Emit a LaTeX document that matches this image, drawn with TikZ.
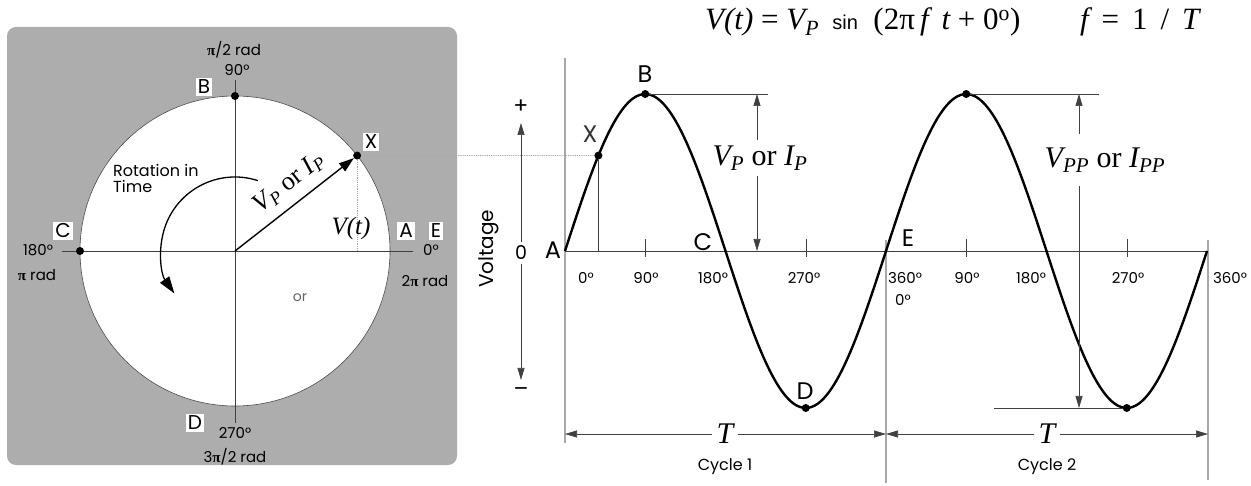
\documentclass[tikz,border=0pt]{standalone}
\usepackage{fontspec}
\setmainfont{Liberation Serif}
\newfontfamily\geofont{Poppins}
\newfontfamily\arialfont{Liberation Sans}
\usetikzlibrary{arrows.meta}
\definecolor{panel}{HTML}{ADADAD}
\definecolor{guidegray}{HTML}{A8A8A8}
\newcommand{\fs}[1]{\fontsize{#1}{#1}\selectfont}
\newcommand{\piglyph}{{\rmfamily\bfseries π}}

\begin{document}
\begin{tikzpicture}[x=1pt,y=1pt,>={Triangle[length=12pt,width=7pt]},
    lbl/.style={font=\geofont\fs{15}, inner sep=1pt},
    boxlbl/.style={fill=white, inner sep=2pt, font=\geofont\fs{20}},
    ptlbl/.style={font=\geofont\fs{24}, inner sep=1pt},
    tms/.style={font=\itshape\fs{30}, inner sep=1pt},
    dot/.style={circle, fill=black, inner sep=0pt, minimum size=8pt},
    guide/.style={guidegray, line width=1.2pt},
    thinln/.style={black!75, line width=0.7pt}]
\useasboundingbox (0,0) rectangle (1251,485);

% phasor panel
\fill[panel, rounded corners=9pt] (7,20) rectangle (457,458);
\coordinate (ctr) at (235,234);
\fill[white] (ctr) circle (155);
\draw[black!70, line width=0.6pt] (ctr) circle (155);
\draw[thinln] (62,234) -- (413,234);
\draw[thinln] (235,405) -- (235,62);

\node[dot] (cb) at (235,389) {};
\node[dot] (cc) at (80,234) {};
\node[dot] (cx) at ([shift={(38:155)}]ctr) {};
\draw[guide, densely dotted, line width=0.8pt] (cx) -- (cx |- ctr);
\draw[-{Triangle[length=15pt,width=10pt]}, line width=1.4pt] (ctr) -- (cx)
    node[pos=0.56, sloped, above=6pt, font=\fs{26}] (vpc) {\itshape V\textsubscript{P} \upshape or \itshape I\textsubscript{P}};
\node[font=\itshape\fs{25}] (vt) at (351,257) {V(t)};

% rotation arrow
\draw[-{Triangle[length=17pt,width=11pt]}, line width=1.3pt]
    ([shift={(72:74)}]ctr) arc[start angle=72, end angle=215, radius=74];
\node[font=\geofont\fs{16}, align=left, anchor=north west, inner sep=0pt] (rot) at (113,321) {Rotation in\\Time};

% circle labels
\node[lbl] (pitwo) at (234,435) {\piglyph/2 rad};
\node[lbl] (cdeg90) at (237,415) {90°};
\node[boxlbl] (boxb) at (204,398) {B};
\node[boxlbl] (boxx) at (371,343) {X};
\node[boxlbl] (boxc) at (63,254) {C};
\node[boxlbl] (boxa) at (406,254) {A};
\node[boxlbl] (boxe) at (436,254) {E};
\node[lbl] (cdeg180) at (38,235) {180°};
\node[lbl] (cdeg0) at (431,235) {0°};
\node[lbl] (pirad) at (37,210) {\piglyph\ rad};
\node[lbl] (twopirad) at (425,204) {2\piglyph\ rad};
\node[lbl, black!60, font=\geofont\fs{14}] (orlbl) at (300,187) {or};
\node[boxlbl] (boxd) at (195,62) {D};
\node[lbl] (cdeg270) at (235,52) {270°};
\node[lbl] (threepi) at (235,28) {3\piglyph/2 rad};

% sine wave frame
\draw[guide] (565,427) -- (565,42);
\draw[guide] (886,245) -- (886,2);
\draw[guide] (1208,245) -- (1208,5);
\draw[thinln] (565,234) -- (1208,234);
\foreach \tx in {645,806,966,1127}
    \draw[thinln] (\tx,246) -- (\tx,228);

% point X
\node[dot] (sx) at (598.4,329.4) {};
\draw[guide, densely dotted, line width=0.8pt] (cx) -- (sx);
\draw[thinln] (sx) -- (sx |- ctr);

% waveform
\draw[line width=2.4pt] plot[domain=0:720, samples=181, smooth] ({565+\x/360*321}, {234+157*sin(\x)});
\node[dot] (sb) at (645.25,391) {};
\node[dot] (sd) at (805.75,77) {};
\node[dot] (sb2) at (966.25,391) {};
\node[dot] (sd2) at (1126.75,77) {};

\node[ptlbl] (la) at (553,235) {A};
\node[ptlbl, black!80] (lx) at (590,351) {X};
\node[ptlbl] (lb) at (645,411) {B};
\node[ptlbl] (lc) at (703,243) {C};
\node[ptlbl] (ld) at (805,94) {D};
\node[ptlbl] (le) at (908,247) {E};

% peak values
\draw[thinln] (sb) -- (768,391);
\node[tms] (vp) at (760,327) {V\textsubscript{P} {\upshape or} I\textsubscript{P}};
\coordinate (vptop) at (757,391);
\coordinate (vpbot) at (757,234);
\draw[thinln,->] ([yshift=4pt]vp.north -| vptop) -- (vptop);
\draw[thinln,->] ([yshift=-4pt]vp.south -| vpbot) -- (vpbot);

\draw[thinln] (sb2) -- (1099,391);
\draw[thinln] (994,77) -- (sd2);
\node[tms] (vpp) at (1105,325) {V\textsubscript{PP} {\upshape or} I\textsubscript{PP}};
\coordinate (vpptop) at (1079,391);
\coordinate (vppbot) at (1079,77);
\draw[thinln,->] ([yshift=12pt]vpp.north -| vpptop) -- (vpptop);
\draw[thinln,->] ([yshift=-12pt]vpp.south -| vppbot) -- (vppbot);

% voltage axis
\node[font=\geofont\fs{19}] (vzero) at (521,232) {0};
\node[font=\geofont\fs{22}] (vplus) at (521,378) {+};
\node[font=\geofont\fs{22}] (vminus) at (521,93) {–};
\coordinate (vtop) at (521,362);
\coordinate (vbot) at (521,105);
\draw[thinln,->] (vzero.north) -- (vtop);
\draw[thinln,->] (vzero.south) -- (vbot);
\node[font=\geofont\fs{20}, rotate=90] (volt) at (489,236) {Voltage};

% degree scale
\foreach \px/\txt [count=\i] in {586/0°, 646/90°, 713/180°, 804/270°, 905/360°, 967/90°, 1031/180°, 1128/270°, 1230/360°}
    \node[lbl] (sdeg\i) at (\px,207) {\txt};
\node[lbl] (sdegz) at (903,185) {0°};

% periods
\coordinate (tc0) at (565,51);
\coordinate (tc1) at (886,51);
\coordinate (tc2) at (1208,51);
\node[tms, fill=white, inner sep=4pt] (tone) at (725,51) {T};
\node[tms, fill=white, inner sep=4pt] (ttwo) at (1047,51) {T};
\draw[thinln,->] (tone) -- (tc0);
\draw[thinln,->] (tone) -- (tc1);
\draw[thinln,->] (ttwo) -- (tc1);
\draw[thinln,->] (ttwo) -- (tc2);
\node[font=\geofont\fs{16}] (cycone) at (725,18) {Cycle 1};
\node[font=\geofont\fs{16}] (cyctwo) at (1047,18) {Cycle 2};

% formula
\node[font=\fs{31}, anchor=west, inner sep=0pt] (eqn) at (705,463)
    {\itshape V(t) \upshape= \itshape V\textsubscript{P} {\upshape\arialfont\fs{20} sin}\ \ \upshape(2π\,\itshape f\, t \upshape+ 0\textsuperscript{o})};
\node[font=\fs{31}, anchor=west, inner sep=0pt] (freq) at (1080,463)
    {\itshape f\, \upshape=\, 1 \,/\, \itshape T};
\end{tikzpicture}
\end{document}
